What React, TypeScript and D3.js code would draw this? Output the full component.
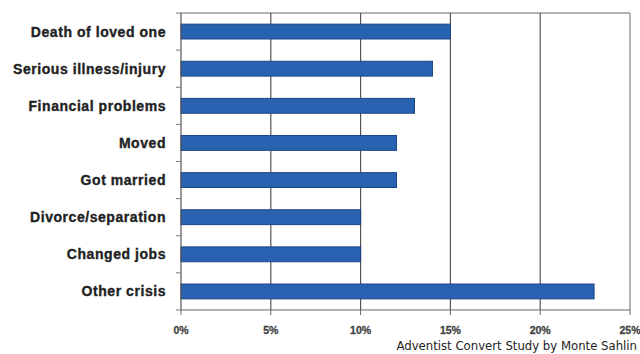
import React from "react";
import * as d3 from "d3";

const categories = [
  "Death of loved one",
  "Serious illness/injury",
  "Financial problems",
  "Moved",
  "Got married",
  "Divorce/separation",
  "Changed jobs",
  "Other crisis",
];
const values = [15, 14, 13, 12, 12, 10, 10, 23];
const xTicks = [0, 5, 10, 15, 20, 25];
const sourceText = "Adventist Convert Study by Monte Sahlin";

const W = 640;
const H = 354;
const M = { left: 181, right: 10, top: 13, bottom: 44 };

export default function App() {
  const x = d3.scaleLinear().domain([0, 25]).range([M.left, W - M.right]);
  const y = d3
    .scaleBand<string>()
    .domain(categories)
    .range([M.top, H - M.bottom])
    .paddingInner(0.6)
    .paddingOuter(0.3);
  const bandEdges = d3
    .range(categories.length + 1)
    .map((i) => M.top + i * ((H - M.bottom - M.top) / categories.length));
  const x0 = x(0);
  const x1 = x(25);
  const yTop = M.top;
  const yBot = H - M.bottom;

  return (
    <svg
      width={W}
      height={H}
      style={{ position: "absolute", left: 0, top: 0, display: "block", background: "#fff" }}
    >
      <line x1={x0} x2={x1} y1={yTop} y2={yTop} stroke="#9a9a9a" strokeWidth={1.5} />
      <line x1={x1} x2={x1} y1={yTop} y2={yBot} stroke="#9a9a9a" strokeWidth={1.5} />
      {xTicks.slice(1, -1).map((t) => (
        <line key={t} x1={x(t)} x2={x(t)} y1={yTop} y2={yBot} stroke="#555" strokeWidth={1.2} />
      ))}
      {categories.map((c, i) => (
        <rect
          key={c}
          x={x0}
          y={y(c)!}
          width={x(values[i]) - x0}
          height={y.bandwidth()}
          fill="#2a62b2"
          stroke="#1d4584"
          strokeWidth={1}
        />
      ))}
      <line x1={x0} x2={x0} y1={yTop} y2={yBot} stroke="#555" strokeWidth={1.2} />
      {bandEdges.map((e, i) => (
        <line key={i} x1={x0 - 5} x2={x0} y1={e} y2={e} stroke="#777" strokeWidth={1} />
      ))}
      <line x1={x0} x2={x1} y1={yBot} y2={yBot} stroke="#666" strokeWidth={1.2} />
      {xTicks.map((t) => (
        <g key={t}>
          <line x1={x(t)} x2={x(t)} y1={yBot} y2={yBot + 5} stroke="#666" strokeWidth={1} />
          <text
            x={x(t)}
            y={yBot + 24}
            textAnchor="middle"
            fontFamily="Liberation Sans, Arial, sans-serif"
            fontWeight="bold"
            fontSize={10.5}
            fill="#444"
            stroke="#444"
            strokeWidth={0.3}
          >
            {t}%
          </text>
        </g>
      ))}
      {categories.map((c) => (
        <text
          key={c}
          x={166}
          y={y(c)! + y.bandwidth() / 2}
          dy="0.36em"
          textAnchor="end"
          fontFamily="Liberation Sans, Arial, sans-serif"
          fontWeight="bold"
          fontSize={14}
          letterSpacing={0.55}
          fill="#222"
          stroke="#222"
          strokeWidth={0.35}
        >
          {c}
        </text>
      ))}
      <text
        x={637}
        y={350}
        textAnchor="end"
        fontFamily="Liberation Sans Narrow, DejaVu Sans Condensed, sans-serif"
        fontSize={13}
        fill="#222"
      >
        {sourceText}
      </text>
    </svg>
  );
}
